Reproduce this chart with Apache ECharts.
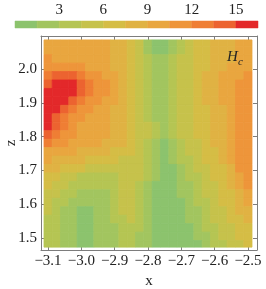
<!DOCTYPE html>
<html><head><meta charset="utf-8">
<script src="https://cdn.jsdelivr.net/npm/echarts@6/dist/echarts.min.js"></script>
<style>html,body{margin:0;padding:0;background:#fff}#c{width:266px;height:289px}</style>
</head><body><div id="c"></div>
<script>
// grid coordinates (cell centres)
const xValues = [-3.1,-3.075,-3.05,-3.025,-3.0,-2.975,-2.95,-2.925,-2.9,-2.875,-2.85,-2.825,-2.8,-2.775,-2.75,-2.725,-2.7,-2.675,-2.65,-2.625,-2.6,-2.575,-2.55,-2.525,-2.5];
const zValues = [2.08,2.055,2.03,2.005,1.98,1.955,1.93,1.905,1.88,1.855,1.83,1.805,1.78,1.755,1.73,1.705,1.68,1.655,1.63,1.605,1.58,1.555,1.53,1.505,1.48];
// Hc values, one row per z (top to bottom), one column per x
const hcRows = [
[10,10,10,10,10,10,10,10,8,8,7,5,2,1,1,2,4,5,7,7,8,8,8,10,10],
[10,10,10,10,10,10,10,10,8,8,7,5,2,1,1,2,4,5,7,7,8,8,8,10,10],
[11,10,10,10,10,10,10,10,8,8,7,5,4,2,2,4,5,5,7,7,8,8,8,10,10],
[11,11,11,11,11,10,10,10,8,8,7,5,4,2,2,4,5,5,7,7,8,8,10,10,10],
[13,14,14,14,13,11,11,10,10,8,7,5,4,2,2,4,5,5,7,8,8,10,10,10,11],
[14,16,16,16,14,13,11,11,10,8,7,5,4,2,2,4,5,5,7,8,8,10,10,11,11],
[16,16,16,16,14,13,11,11,10,8,7,5,4,2,2,4,5,5,7,8,8,10,10,11,11],
[16,16,16,14,13,11,11,10,10,8,7,5,4,2,2,4,5,5,7,8,8,10,10,11,11],
[16,16,14,13,11,11,10,10,8,8,7,5,4,2,2,4,5,5,7,7,8,8,10,11,11],
[16,14,13,11,11,10,10,10,8,8,7,5,4,2,2,4,5,5,7,7,8,8,10,11,11],
[16,14,13,11,10,10,10,10,8,8,7,5,5,4,2,4,5,5,7,7,8,8,10,11,11],
[14,13,11,11,10,10,10,10,8,8,7,5,5,4,2,4,5,5,7,7,8,8,10,11,11],
[13,11,11,10,10,10,10,8,8,8,7,5,4,2,1,2,4,5,5,7,8,8,10,11,11],
[10,10,10,10,8,8,8,8,7,7,7,5,4,2,1,2,4,5,5,7,7,8,10,11,11],
[10,8,8,8,8,7,7,7,7,5,5,5,4,2,1,2,4,4,5,7,7,8,10,11,11],
[8,8,7,7,7,5,5,5,5,5,5,5,4,2,1,1,2,4,5,5,7,7,8,11,11],
[7,7,5,5,4,4,4,4,4,5,5,5,4,2,1,1,2,4,4,5,7,7,8,10,11],
[7,5,5,4,4,4,4,4,4,5,5,4,2,1,1,1,2,2,4,5,5,7,8,10,11],
[5,5,4,4,2,2,2,2,4,5,5,4,2,1,1,1,2,2,4,5,5,7,7,8,10],
[5,4,4,2,2,2,2,2,4,5,5,4,2,1,1,1,1,2,4,4,5,7,7,8,10],
[5,4,2,2,1,1,2,2,4,5,5,4,2,1,1,1,1,2,2,4,5,5,7,8,8],
[4,4,2,2,1,1,2,2,4,4,5,4,2,1,1,1,1,2,2,4,5,5,7,7,8],
[4,4,2,2,1,1,2,2,2,4,4,4,2,1,1,1,1,1,2,4,4,5,5,7,7],
[4,4,2,2,1,1,2,2,2,4,4,2,2,1,1,1,1,1,2,2,4,5,5,7,7],
[4,4,2,2,1,1,2,2,2,4,4,2,2,1,1,1,1,1,1,2,4,4,5,5,7]
];
const xTicks = [-3.1,-3.0,-2.9,-2.8,-2.7,-2.6,-2.5];
const zTicks = [1.5,1.6,1.7,1.8,1.9,2.0];
const levels = [0,1.5,3,4.5,6,7.5,9,10.5,12,13.5,15,16.5];
const levelTicks = [3,6,9,12,15];
const bandColors = ['#8cc36d','#a2c55f','#b5c553','#c6c24b','#d5bd45','#e0b243','#e9a63f','#ee953a','#ef7e34','#ec6330','#e3282a'];

const FONT = '"Liberation Serif","Times New Roman",serif';
const dx = 0.025, dz = 0.025;
const fillX = [-3.112, -2.488], fillZ = [1.473, 2.086];

function colorOf(v){
  for (let k = 0; k < bandColors.length; k++) if (v < levels[k+1]) return bandColors[k];
  return bandColors[bandColors.length-1];
}
function fmtTick(list){
  return function(v){
    const t = list.find(t => Math.abs(t - v) < 1e-6);
    if (t === undefined) return '';
    return (t < 0 ? '\u2212' : '') + Math.abs(t).toFixed(1);
  };
}
const cells = [];
zValues.forEach((z, j) => xValues.forEach((x, i) => cells.push([x, z, hcRows[j][i]])));
const bars = [];
for (let k = 0; k < bandColors.length; k++) bars.push([levels[k], levels[k+1], k]);

const chart = echarts.init(document.getElementById('c'), null, {renderer:'canvas'});
const frameColor = '#7d7d7d';
const frameLine = {show:true, onZero:false, lineStyle:{color:frameColor, width:1}};
chart.setOption({
  animation: false,
  grid: [
    {left: 41, top: 36, width: 216, height: 214, containLabel:false, outerBoundsMode:'none'},
    {left: 15, top: 21, width: 243, height: 7, containLabel:false, outerBoundsMode:'none'}
  ],
  xAxis: [
    {type:'value', gridIndex:0, min:-3.121, max:-2.473, position:'bottom',
     axisLine:frameLine, splitLine:{show:false},
     axisTick:{show:true, inside:true, length:4, lineStyle:{color:frameColor}},
     axisLabel:{fontFamily:FONT, fontSize:15, color:'#222', margin:4, formatter: fmtTick(xTicks), showMinLabel:false, showMaxLabel:false},
     name:'x', nameLocation:'middle', nameGap:23, nameTextStyle:{fontFamily:FONT, fontSize:15, color:'#222'}},
    {type:'value', gridIndex:0, min:-3.121, max:-2.473, position:'top',
     axisLine:frameLine, splitLine:{show:false},
     axisTick:{show:true, inside:true, length:4, lineStyle:{color:frameColor}}, axisLabel:{show:false}},
    {type:'value', gridIndex:1, min:0, max:16.5, interval:3, position:'top',
     axisLine:{show:false}, splitLine:{show:false}, axisTick:{show:false},
     axisLabel:{fontFamily:FONT, fontSize:15, color:'#222', margin:3, showMaxLabel:false,
       formatter: v => levelTicks.indexOf(v) >= 0 ? String(v) : ''}}
  ],
  yAxis: [
    {type:'value', gridIndex:0, min:1.4645, max:2.0976, position:'left',
     axisLine:frameLine, splitLine:{show:false},
     axisTick:{show:true, inside:true, length:4, lineStyle:{color:frameColor}},
     axisLabel:{fontFamily:FONT, fontSize:15, color:'#222', margin:4, formatter: fmtTick(zTicks), showMinLabel:false, showMaxLabel:false},
     name:'z', nameLocation:'middle', nameGap:22, nameRotate:90, nameMoveOverlap:false,
     nameTextStyle:{fontFamily:FONT, fontSize:15, color:'#222'}},
    {type:'value', gridIndex:0, min:1.4645, max:2.0976, position:'right',
     axisLine:frameLine, splitLine:{show:false},
     axisTick:{show:true, inside:true, length:4, lineStyle:{color:frameColor}}, axisLabel:{show:false}},
    {type:'value', gridIndex:1, min:0, max:1, show:false}
  ],
  series: [
    {type:'custom', xAxisIndex:0, yAxisIndex:0, data: cells, z: 1,
     renderItem: function(params, api){
       const x = api.value(0), z = api.value(1), v = api.value(2);
       const x0 = Math.max(x - dx/2, fillX[0]), x1 = Math.min(x + dx/2, fillX[1]);
       const z0 = Math.max(z - dz/2, fillZ[0]), z1 = Math.min(z + dz/2, fillZ[1]);
       const p0 = api.coord([x0, z1]), p1 = api.coord([x1, z0]);
       const c = colorOf(v);
       return {type:'rect', shape:{x:p0[0], y:p0[1], width:p1[0]-p0[0], height:p1[1]-p0[1]},
               style:{fill:c, stroke:c, lineWidth:0.8}};
     }},
    {type:'custom', xAxisIndex:2, yAxisIndex:2, data: bars,
     renderItem: function(params, api){
       const p0 = api.coord([api.value(0), 1]), p1 = api.coord([api.value(1), 0]);
       const c = bandColors[api.value(2)];
       return {type:'rect', shape:{x:p0[0], y:p0[1], width:p1[0]-p0[0], height:p1[1]-p0[1]},
               style:{fill:c, stroke:c, lineWidth:0.5}};
     }}
  ],
  graphic: [
    {type:'text', left:227, top:50, z:100, style:{text:'H', font:'italic 15px ' + FONT, fill:'#222'}},
    {type:'text', left:238, top:57, z:100, style:{text:'c', font:'italic 11px ' + FONT, fill:'#222'}}
  ]
});
</script></body></html>
